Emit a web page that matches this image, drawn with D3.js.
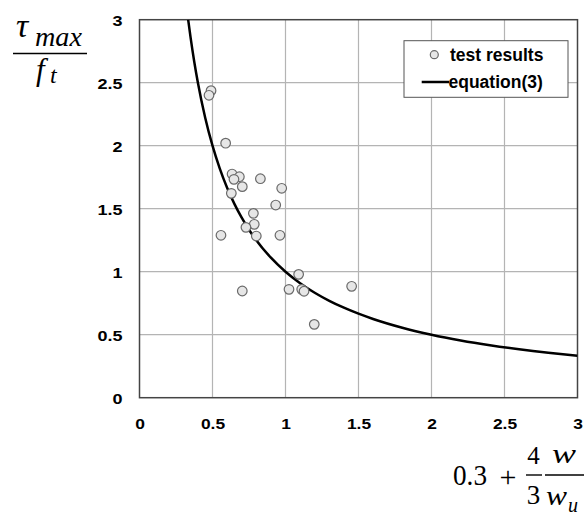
<!DOCTYPE html>
<html><head><meta charset="utf-8">
<script src="https://cdn.jsdelivr.net/npm/d3@7"></script>
<style>body{margin:0;background:#fff}</style>
</head><body>
<svg id="c" width="584" height="515"></svg>
<script>
const xTicks = [0, 0.5, 1, 1.5, 2, 2.5, 3];
const yTicks = [0, 0.5, 1, 1.5, 2, 2.5, 3];
const testX = [0.490, 0.476, 0.590, 0.634, 0.684, 0.647, 0.828, 0.704, 0.974, 0.629, 0.933, 0.780, 0.786, 0.729, 0.800, 0.558, 0.962, 1.090, 0.704, 1.024, 1.111, 1.127, 1.453, 1.197];
const testY = [2.437, 2.400, 2.020, 1.775, 1.754, 1.733, 1.738, 1.675, 1.662, 1.622, 1.529, 1.463, 1.376, 1.352, 1.283, 1.289, 1.289, 0.979, 0.847, 0.860, 0.860, 0.845, 0.884, 0.582];
// equation(3): tau/ft = 1 / (0.3 + 4/3 w/wu), sampled at these abscissae
const eqX = [0.3334,0.35,0.375,0.4,0.45,0.5,0.55,0.6,0.65,0.7,0.75,0.8,0.9,1,1.1,1.2,1.3,1.4,1.5,1.6,1.8,2,2.2,2.4,2.6,2.8,3];
const eqY = eqX.map(v => 1 / v);

const svg = d3.select("#c");
const L = 139.5, R = 577.5, T = 19.7, B = 397.7;
const x = d3.scaleLinear().domain([0, 3]).range([L, R]);
const y = d3.scaleLinear().domain([0, 3]).range([B, T]);
const sans = "Liberation Sans, Arial, sans-serif";
const SX = 1.2;

// grid
const g = svg.append("g");
g.selectAll(".vx").data(xTicks.slice(1, -1)).enter().append("line")
  .attr("x1", d => x(d)).attr("x2", d => x(d)).attr("y1", T).attr("y2", B)
  .attr("stroke", "#b4b4b4").attr("stroke-width", 1.2);
g.selectAll(".hy").data(yTicks.slice(1, -1)).enter().append("line")
  .attr("y1", d => y(d)).attr("y2", d => y(d)).attr("x1", L).attr("x2", R)
  .attr("stroke", "#b4b4b4").attr("stroke-width", 1.2);

// axes (labels only)
const xa = svg.append("g").attr("transform", `translate(0,${B})`)
  .call(d3.axisBottom(x).tickValues(xTicks).tickSize(0).tickPadding(0).tickFormat(d3.format("")));
xa.select(".domain").remove();
xa.selectAll("text").attr("y", 31.5).attr("dy", 0).attr("font-family", sans)
  .attr("font-size", 14.5).attr("font-weight", "bold").attr("fill", "#000")
  .attr("transform", `scale(${SX},1)`);
const ya = svg.append("g").attr("transform", `translate(${L},0)`)
  .call(d3.axisLeft(y).tickValues(yTicks).tickSize(0).tickPadding(0).tickFormat(d3.format("")));
ya.select(".domain").remove();
ya.selectAll("text").attr("x", -17 / SX).attr("font-family", sans)
  .attr("font-size", 15).attr("font-weight", "bold").attr("fill", "#000").attr("dy", "0.36em")
  .attr("transform", `scale(${SX},1)`);

// frame
svg.append("rect").attr("x", L).attr("y", T).attr("width", R - L).attr("height", B - T)
  .attr("fill", "none").attr("stroke", "#444").attr("stroke-width", 1.5);

// clip
svg.append("clipPath").attr("id", "cp").append("rect").attr("x", L).attr("y", T).attr("width", R - L).attr("height", B - T);

// equation curve
const line = d3.line().x(d => x(d[0])).y(d => y(d[1])).curve(d3.curveMonotoneX);
svg.append("path").datum(eqX.map((v, i) => [v, eqY[i]])).attr("clip-path", "url(#cp)")
  .attr("d", line).attr("fill", "none").attr("stroke", "#000").attr("stroke-width", 2.5);

// test points
svg.selectAll(".pt").data(testX.map((v, i) => [v, testY[i]])).enter().append("circle")
  .attr("cx", d => x(d[0])).attr("cy", d => y(d[1])).attr("r", 4.8)
  .attr("fill", "#e6e6e6").attr("stroke", "#6a6a6a").attr("stroke-width", 1.2);

// legend
const lg = svg.append("g");
lg.append("rect").attr("x", 404).attr("y", 40.7).attr("width", 164).attr("height", 56.6)
  .attr("fill", "#fff").attr("stroke", "#555").attr("stroke-width", 1);
lg.append("circle").attr("cx", 434.3).attr("cy", 54.7).attr("r", 4)
  .attr("fill", "#e6e6e6").attr("stroke", "#6a6a6a").attr("stroke-width", 1.2);
lg.append("text").attr("x", 450).attr("y", 61.3).text("test results")
  .attr("font-family", sans).attr("font-size", 17.5).attr("font-weight", "bold");
lg.append("line").attr("x1", 421.7).attr("x2", 449).attr("y1", 82).attr("y2", 82)
  .attr("stroke", "#000").attr("stroke-width", 2.5);
lg.append("text").attr("x", 448.5).attr("y", 88).text("equation(3)")
  .attr("font-family", sans).attr("font-size", 17.5).attr("font-weight", "bold");

// y axis title: tau_max / f_t
const serif = "Liberation Serif, Times New Roman, serif";
const yt = svg.append("g").attr("font-family", serif).attr("fill", "#000");
yt.append("text").attr("x", 16).attr("y", 37).attr("font-size", 34).attr("font-style", "italic").text("τ");
yt.append("text").attr("x", 35).attr("y", 46).attr("font-size", 28).attr("font-style", "italic")
  .attr("textLength", 47).attr("lengthAdjust", "spacingAndGlyphs").text("max");
yt.append("line").attr("x1", 13).attr("x2", 87).attr("y1", 53.5).attr("y2", 53.5).attr("stroke", "#000").attr("stroke-width", 1.5);
yt.append("text").attr("x", 36).attr("y", 80).attr("font-size", 31).attr("font-style", "italic").text("f");
yt.append("text").attr("x", 50).attr("y", 83).attr("font-size", 24).attr("font-style", "italic").text("t");

// x axis title: 0.3 + 4/3 w/w_u
const xt = svg.append("g").attr("font-family", serif).attr("fill", "#000");
xt.append("text").attr("x", 453).attr("y", 485).attr("font-size", 29)
  .attr("textLength", 34).attr("lengthAdjust", "spacingAndGlyphs").text("0.3");
xt.append("text").attr("x", 508).attr("y", 487).attr("font-size", 30).attr("text-anchor", "middle").text("+");
xt.append("text").attr("x", 533.5).attr("y", 464).attr("font-size", 25).attr("text-anchor", "middle").text("4");
xt.append("line").attr("x1", 526).attr("x2", 542).attr("y1", 475).attr("y2", 475).attr("stroke", "#000").attr("stroke-width", 1.4);
xt.append("text").attr("x", 533.5).attr("y", 504).attr("font-size", 27).attr("text-anchor", "middle").text("3");
xt.append("text").attr("x", 552).attr("y", 463).attr("font-size", 27).attr("font-style", "italic")
  .attr("textLength", 24).attr("lengthAdjust", "spacingAndGlyphs").text("w");
xt.append("line").attr("x1", 545).attr("x2", 584).attr("y1", 475).attr("y2", 475).attr("stroke", "#000").attr("stroke-width", 1.4);
xt.append("text").attr("x", 546).attr("y", 505).attr("font-size", 27).attr("font-style", "italic")
  .attr("textLength", 21).attr("lengthAdjust", "spacingAndGlyphs").text("w");
xt.append("text").attr("x", 568).attr("y", 512).attr("font-size", 20).attr("font-style", "italic").text("u");
</script>
</body></html>
